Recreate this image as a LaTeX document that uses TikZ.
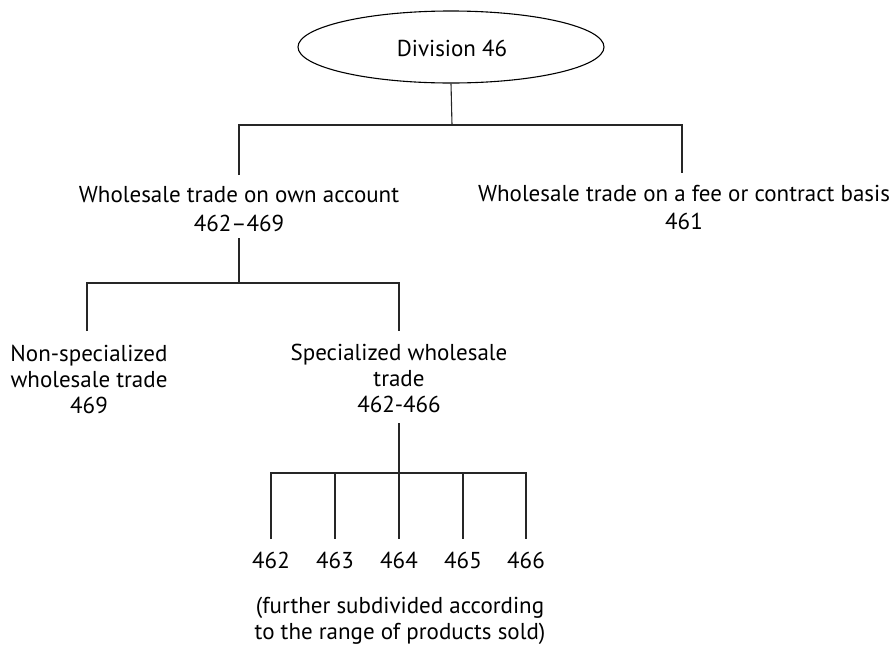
\documentclass[tikz,border=0pt]{standalone}
\usepackage{fontspec}
\setmainfont{PT Sans}
\usetikzlibrary{shapes.geometric}
\begin{document}
\begin{tikzpicture}[x=1pt,y=-1pt,
  conn/.style={line width=1.1pt, black!85},
  lbl/.style={inner sep=0pt, align=center, anchor=base, font=\fontsize{23}{26}\selectfont}]
\useasboundingbox (0,0) rectangle (896,646);
\node[draw, ellipse, line width=1.1pt, minimum width=306pt, minimum height=72pt, inner sep=0pt] (div) at (451,47) {};
\node[lbl] (divt) at (452,56) {Division 46};
% level 2
\coordinate (b1) at (452,125);
\coordinate (b1l) at (239,125);
\coordinate (b1r) at (682,125);
\coordinate (e1l) at (239,175);
\coordinate (e1r) at (682,173);
\node[lbl] (own) at (239,231) {Wholesale trade on own account\\[3pt]462--469};
\node[lbl] (fee) at (684,229) {Wholesale trade on a fee or contract basis\\[2pt]461};
\draw[conn] (div.south) -- (b1);
\draw[conn] (e1l) -- (b1l) -- (b1r) -- (e1r);
% level 3
\coordinate (s2) at (239,238);
\coordinate (b2) at (239,283);
\coordinate (b2l) at (87,283);
\coordinate (b2r) at (399,283);
\coordinate (e2l) at (87,331);
\coordinate (e2r) at (399,331);
\draw[conn] (s2) -- (b2);
\draw[conn] (e2l) -- (b2l) -- (b2r) -- (e2r);
\node[lbl] (non) at (89,413) {Non-specialized\\wholesale trade\\469};
\node[lbl] (spec) at (399,412) {Specialized wholesale\\trade\\462-466};
% level 4
\coordinate (s3) at (399,423);
\coordinate (b3) at (399,473);
\draw[conn] (s3) -- (b3);
\draw[conn] (271,539) coordinate (e31) -- (271,473) coordinate (b31) -- (526,473) coordinate (b35) -- (526,539) coordinate (e35);
\foreach \x/\n in {335/2,399/3,463/4}{
  \draw[conn] (\x,473) coordinate (b3\n) -- (\x,539) coordinate (e3\n);
}
\foreach \x/\t in {271/462,335/463,399/464,463/465,526/466}{
  \node[lbl] (n\t) at (\x,568) {\t};
}
\node[lbl] (note) at (400,639) {(further subdivided according\\to the range of products sold)};
\end{tikzpicture}
\end{document}
